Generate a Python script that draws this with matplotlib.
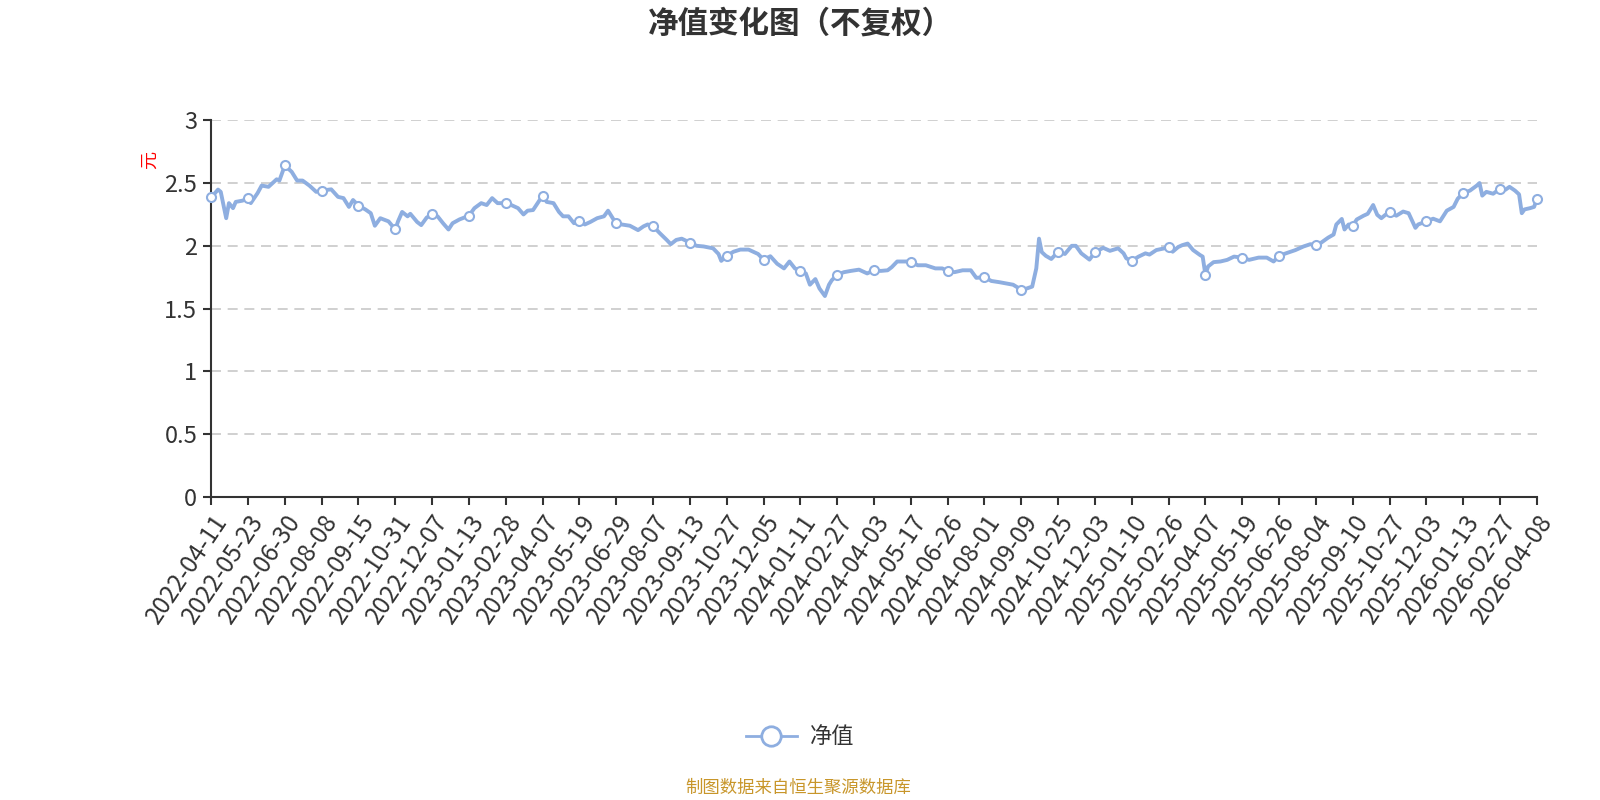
import matplotlib
matplotlib.use("Agg")
import matplotlib.pyplot as plt
from matplotlib.lines import Line2D

plt.rcParams['font.family'] = ['Noto Sans CJK SC', 'DejaVu Sans']

# tick labels, one every 27 trading days
tick_labels = [
    '2022-04-11', '2022-05-23', '2022-06-30', '2022-08-08', '2022-09-15', '2022-10-31',
    '2022-12-07', '2023-01-13', '2023-02-28', '2023-04-07', '2023-05-19', '2023-06-29',
    '2023-08-07', '2023-09-13', '2023-10-27', '2023-12-05', '2024-01-11', '2024-02-27',
    '2024-04-03', '2024-05-17', '2024-06-26', '2024-08-01', '2024-09-09', '2024-10-25',
    '2024-12-03', '2025-01-10', '2025-02-26', '2025-04-07', '2025-05-19', '2025-06-26',
    '2025-08-04', '2025-09-10', '2025-10-27', '2025-12-03', '2026-01-13', '2026-02-27',
    '2026-04-08',
]
step = 27

# trading-day index (0 = 2022-04-11) and NAV
day = [
    0, 5, 7, 11, 13, 16, 18, 23, 27, 29, 34, 37, 42, 48, 50, 54, 59, 63, 67, 72, 77, 81,
    88, 93, 97, 101, 104, 108, 113, 117, 120, 124, 130, 135, 137, 140, 144, 146, 151, 154,
    158, 162, 166, 170, 174, 177, 182, 189, 193, 198, 202, 206, 210, 216, 220, 225, 229,
    232, 236, 240, 243, 246, 251, 255, 258, 262, 266, 270, 274, 278, 283, 288, 291, 295,
    297, 301, 307, 313, 317, 320, 324, 329, 334, 337, 341, 345, 351, 356, 361, 368, 372,
    374, 378, 383, 388, 394, 398, 401, 405, 410, 415, 420, 424, 428, 432, 436, 439, 443,
    446, 450, 453, 455, 459, 464, 469, 475, 481, 486, 491, 496, 499, 503, 508, 513, 518,
    524, 531, 536, 540, 545, 551, 557, 561, 567, 572, 578, 583, 588, 594, 598, 602, 605,
    607, 609, 612, 616, 621, 626, 631, 634, 638, 641, 644, 648, 654, 659, 665, 669, 671,
    675, 680, 685, 688, 693, 699, 702, 705, 709, 712, 716, 720, 725, 727, 729, 731, 735,
    740, 745, 750, 756, 761, 768, 774, 779, 783, 788, 795, 801, 806, 810, 814, 819, 823,
    825, 829, 831, 834, 837, 840, 845, 848, 852, 855, 858, 861, 864, 869, 874, 878, 883,
    885, 891, 896, 901, 906, 911, 914, 918, 923, 928, 930, 932, 935, 940, 945, 949, 952,
    956, 959, 961, 963, 967, 970, 972,
]
nav = [
    2.385, 2.448, 2.43, 2.22, 2.34, 2.30, 2.35, 2.36, 2.38, 2.34, 2.42, 2.48, 2.47, 2.53,
    2.52, 2.64, 2.59, 2.52, 2.52, 2.48, 2.43, 2.44, 2.45, 2.39, 2.38, 2.31, 2.365, 2.32,
    2.29, 2.26, 2.16, 2.22, 2.195, 2.13, 2.195, 2.27, 2.235, 2.255, 2.19, 2.165, 2.225,
    2.25, 2.235, 2.18, 2.13, 2.18, 2.21, 2.24, 2.30, 2.34, 2.325, 2.38, 2.34, 2.34, 2.325,
    2.30, 2.25, 2.28, 2.285, 2.35, 2.40, 2.35, 2.34, 2.27, 2.235, 2.235, 2.18, 2.20, 2.17,
    2.19, 2.22, 2.235, 2.28, 2.21, 2.18, 2.17, 2.16, 2.125, 2.155, 2.17, 2.156, 2.10,
    2.047, 2.013, 2.047, 2.057, 2.026, 2.0, 1.995, 1.98, 1.935, 1.88, 1.92, 1.953, 1.97,
    1.97, 1.95, 1.935, 1.89, 1.917, 1.857, 1.82, 1.875, 1.82, 1.80, 1.78, 1.69, 1.735,
    1.66, 1.60, 1.69, 1.725, 1.77, 1.79, 1.80, 1.81, 1.78, 1.805, 1.80, 1.805, 1.83, 1.875,
    1.875, 1.875, 1.845, 1.845, 1.82, 1.82, 1.80, 1.79, 1.805, 1.805, 1.745, 1.75, 1.72,
    1.71, 1.70, 1.69, 1.65, 1.66, 1.675, 1.82, 2.057, 1.95, 1.92, 1.895, 1.953, 1.935,
    2.0, 2.0, 1.94, 1.915, 1.89, 1.948, 1.984, 1.96, 1.98, 1.94, 1.90, 1.88, 1.914, 1.94,
    1.93, 1.966, 1.98, 1.99, 1.953, 1.99, 2.005, 2.018, 1.966, 1.927, 1.914, 1.77, 1.836,
    1.87, 1.875, 1.888, 1.914, 1.906, 1.888, 1.906, 1.906, 1.875, 1.92, 1.94, 1.966,
    1.995, 2.013, 2.005, 2.026, 2.065, 2.09, 2.17, 2.214, 2.13, 2.17, 2.16, 2.21, 2.24,
    2.255, 2.325, 2.247, 2.22, 2.247, 2.266, 2.24, 2.273, 2.26, 2.143, 2.17, 2.195, 2.216,
    2.195, 2.28, 2.31, 2.375, 2.42, 2.44, 2.48, 2.50, 2.40, 2.43, 2.415, 2.455, 2.447,
    2.47, 2.44, 2.41, 2.26, 2.29, 2.30, 2.31, 2.37,
]

line_color = '#8eaee0'
tick_days = [i * step for i in range(len(tick_labels))]
marker_idx = [i for i, d in enumerate(day) if d in tick_days]

fig = plt.figure(figsize=(16, 8), dpi=100)
ax = fig.add_axes([0.132, 0.379, 0.8285, 0.4706])

ax.plot(day, nav, color=line_color, linewidth=2.8, solid_joinstyle='round',
        marker='o', markevery=marker_idx, markersize=6.5,
        markerfacecolor='white', markeredgecolor=line_color, markeredgewidth=1.5,
        zorder=3, clip_on=False)

ax.set_xlim(0, tick_days[-1])
ax.set_ylim(0, 3)
ax.set_yticks([0, 0.5, 1, 1.5, 2, 2.5, 3])
ax.set_yticklabels(['0', '0.5', '1', '1.5', '2', '2.5', '3'])
ax.set_xticks(tick_days)
ax.set_xticklabels(tick_labels, rotation=56, ha='right', va='top',
                   rotation_mode='anchor')

for v in [0.5, 1, 1.5, 2, 2.5, 3]:
    ax.axhline(v, color='#c8c8c8', linewidth=1.2, dashes=(6, 4), zorder=1)

for s in ['top', 'right']:
    ax.spines[s].set_visible(False)
for s in ['left', 'bottom']:
    ax.spines[s].set_color('#333333')
    ax.spines[s].set_linewidth(1.5)

ax.tick_params(axis='y', direction='out', length=6, width=1.5, color='#333333',
               labelsize=17, labelcolor='#333333', pad=4)
ax.tick_params(axis='x', direction='out', length=6, width=1.5, color='#333333',
               labelsize=17.5, labelcolor='#333333', pad=3)

ax.text(-0.046, 0.895, '元', transform=ax.transAxes, color='red', fontsize=13,
        rotation=90, ha='center', va='center')

fig.text(0.5, 0.971, '净值变化图（不复权）', ha='center', va='center',
         fontsize=22, fontweight='bold', color='#333333')

handle = Line2D([0], [0], color=line_color, linewidth=2, marker='o', markersize=14,
                markerfacecolor='white', markeredgecolor=line_color, markeredgewidth=2)
fig.legend([handle], ['净值'], loc='center', bbox_to_anchor=(0.5, 0.079),
           frameon=False, fontsize=16, handlelength=2.3, handletextpad=0.6,
           labelcolor='#333333')

fig.text(0.499, 0.015, '制图数据来自恒生聚源数据库', ha='center', va='center',
         fontsize=12.5, color='#c8962a')

fig.savefig('out.png', dpi=100)
